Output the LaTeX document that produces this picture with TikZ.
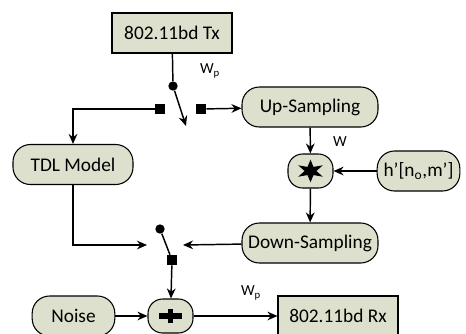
\documentclass[tikz,border=0pt]{standalone}
\usepackage{fontspec}
\setmainfont{Carlito}
\usetikzlibrary{arrows.meta,shapes.geometric}
\definecolor{boxfill}{RGB}{221,224,204}
\tikzset{
  block/.style={draw,fill=boxfill,line width=.8pt,minimum height=30pt,inner sep=2pt,
    font=\fontsize{14.5}{17}\selectfont},
  roundblock/.style={block,rounded corners=13pt},
  opblock/.style={draw,fill=boxfill,line width=.8pt,rounded corners=11pt,
    minimum width=33.75pt,minimum height=25.5pt},
  dot/.style={circle,fill,inner sep=0pt,minimum size=7pt},
  port/.style={rectangle,fill,inner sep=0pt,minimum size=7.5pt},
  lbl/.style={font=\fontsize{11.5}{13}\selectfont},
  sig/.style={line width=1.1pt,-{Stealth[length=7.5pt,width=6.5pt]}}
}
\begin{document}
\begin{tikzpicture}[x=0.75pt,y=-0.75pt]

      \useasboundingbox (0,0) rectangle (466,333);

      \node[block,minimum width=90pt] (tx) at (172,33) {802.11bd Tx};
      \node[roundblock,minimum width=90pt] (tdl) at (73,164.5) {TDL Model};
      \node[roundblock,minimum width=102pt] (up) at (310,107) {Up-Sampling};
      \node[opblock] (conv) at (310.5,171) {};
      \node[roundblock,minimum width=62pt] (chan) at (418.5,171) {h’[n\textsubscript{o},m’]};
      \node[roundblock,minimum width=102pt] (down) at (310,243) {Down-Sampling};
      \node[roundblock,minimum width=62pt] (noise) at (73.5,316) {Noise};
      \node[opblock] (sum) at (170.5,316) {};
      \node[block,minimum width=90pt] (rx) at (338,316) {802.11bd Rx};

      \node[star,star points=6,star point ratio=2.4,fill,inner sep=0pt,minimum size=17pt,
        xscale=1.25,transform shape] (starmark) at (conv) {};
      \draw[line width=4pt] ([xshift=-8.5pt]sum.center) -- ([xshift=8.5pt]sum.center)
        ([yshift=-5.5pt]sum.center) -- ([yshift=5.5pt]sum.center);

      \node[dot] (swin) at (173,86) {};
      \node[port] (pleft) at (160,109) {};
      \node[port] (pright) at (201,109) {};
      \coordinate (blade) at (186,126);
      \node[dot] (swout) at (160,229) {};
      \node[port] (pout) at (172,260) {};
      \coordinate (inleft) at (147,245);
      \coordinate (inright) at (183,245);

      \node[lbl] (wtop) at (210,71) {W\textsubscript{p}};
      \node[lbl] (wmid) at (340,142) {W};
      \node[lbl] (wbot) at (251,293) {W\textsubscript{p}};

      \draw[line width=1.1pt] (tx) -- (swin);
      \draw[sig] (swin) -- (blade);
      \draw[sig] (pleft) -| (tdl);
      \draw[sig] (pright) -- (up);
      \draw[sig] (up) -- (conv);
      \draw[sig] (chan) -- (conv);
      \draw[sig] (conv) -- (down);
      \draw[sig] (down) -- (inright);
      \draw[sig] (tdl) |- (inleft);
      \draw[line width=1.1pt] (swout) -- (pout);
      \draw[sig] (pout) -- (sum);
      \draw[sig] (noise) -- (sum);
      \draw[sig] (sum) -- (rx);

    \end{tikzpicture}
\end{document}
